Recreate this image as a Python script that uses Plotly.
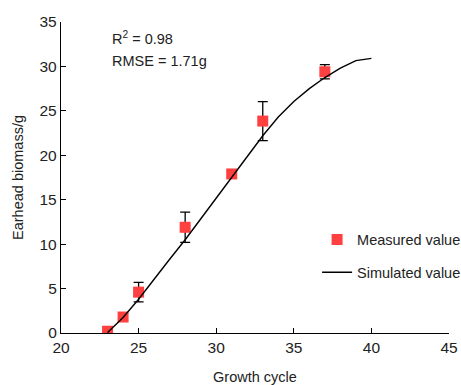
import plotly.graph_objects as go

meas_x = [23, 24, 25, 28, 31, 33, 37]
meas_y = [0.2, 1.8, 4.6, 11.9, 17.9, 23.85, 29.4]
meas_err = [0.2, 0.4, 1.1, 1.7, 0.3, 2.2, 0.8]

sim_x = [23, 24, 25, 26, 27, 28, 29, 30, 31, 32, 33, 34, 35, 36, 37, 38, 39, 40]
sim_y = [0.05, 1.75, 3.8, 6.1, 8.3, 10.5, 12.85, 15.15, 17.5, 19.9, 22.2, 24.3, 26.05, 27.5, 28.75, 29.8, 30.65, 30.9]

font = dict(family="Liberation Sans, Arial, sans-serif", size=14.5, color="#222")
tickfont = dict(family="Liberation Sans, Arial, sans-serif", size=15.5, color="#222")

fig = go.Figure()
fig.add_trace(go.Scatter(
    x=meas_x, y=meas_y, mode="markers", name="Measured value",
    marker=dict(symbol="square", size=11, color="rgb(255,64,64)"),
    error_y=dict(type="data", array=meas_err, visible=True, color="black", thickness=1.3, width=5),
    legendgroup="a",
))
fig.add_trace(go.Scatter(
    x=sim_x, y=sim_y, mode="lines", name="Simulated value",
    line=dict(color="black", width=1.4),
    legendgroup="b",
))

fig.update_layout(
    width=461, height=385,
    margin=dict(l=61, r=12, t=22, b=52, autoexpand=False),
    plot_bgcolor="white", paper_bgcolor="white",
    font=font,
    showlegend=True,
    legend=dict(x=0.66, y=0.352, xanchor="left", yanchor="top",
                bgcolor="rgba(0,0,0,0)", font=font,
                traceorder="grouped", tracegroupgap=11),
    xaxis=dict(range=[20, 45], tickvals=[20, 25, 30, 35, 40, 45],
               showline=True, linecolor="black", linewidth=1.3,
               ticks="inside", ticklen=5, tickcolor="black", tickwidth=1.3,
               showgrid=False, zeroline=False, tickfont=tickfont,
               title=dict(text="Growth cycle", font=font, standoff=20)),
    yaxis=dict(range=[0, 35], tickvals=[0, 5, 10, 15, 20, 25, 30, 35],
               showline=True, linecolor="black", linewidth=1.3,
               ticks="inside", ticklen=5, tickcolor="black", tickwidth=1.3,
               showgrid=False, zeroline=False, tickfont=tickfont,
               title=dict(text="Earhead biomass/g", font=font, standoff=12)),
    annotations=[
        dict(text="R<sup>2</sup> = 0.98", x=0.125, y=0.95, xref="paper", yref="paper",
             xanchor="left", yanchor="middle", showarrow=False, font=font),
        dict(text="RMSE = 1.71g", x=0.125, y=0.875, xref="paper", yref="paper",
             xanchor="left", yanchor="middle", showarrow=False, font=font),
    ],
)

fig.write_html("out.html")
